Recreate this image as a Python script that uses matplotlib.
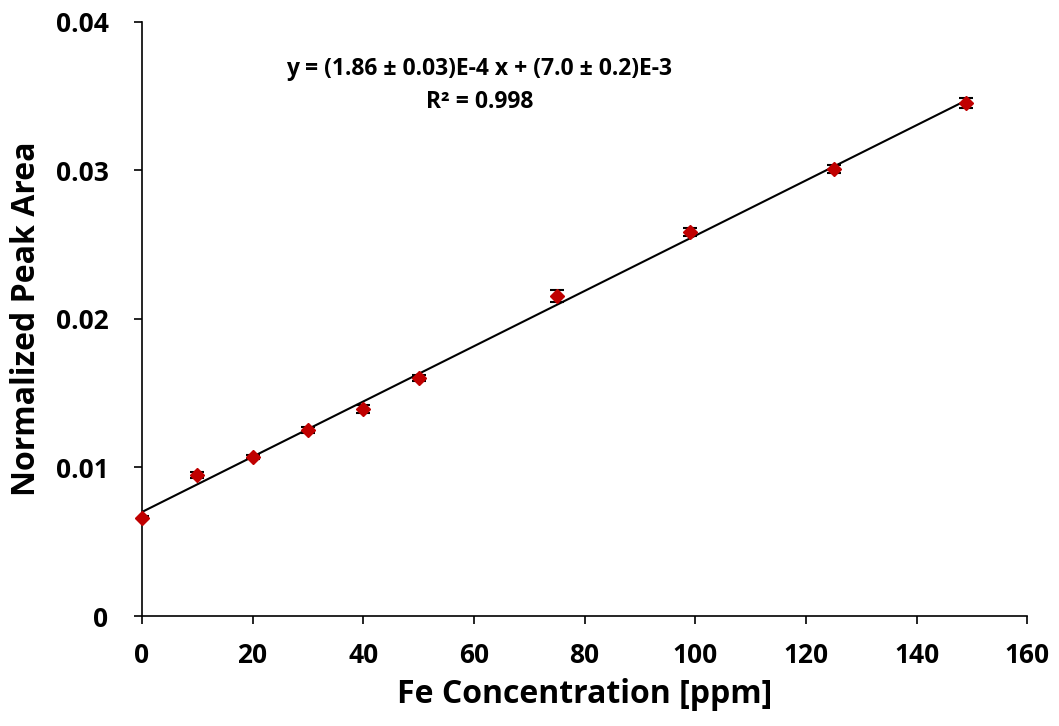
import numpy as np
import matplotlib.pyplot as plt

plt.rcParams['font.family'] = ['Open Sans', 'DejaVu Sans']
plt.rcParams['font.weight'] = 'bold'

conc = [0, 10, 20, 30, 40, 50, 75, 99, 125, 149]
area = [0.0066, 0.0095, 0.0107, 0.01253, 0.01394, 0.01603, 0.02155, 0.02585, 0.03008, 0.03452]
err = [0.0001, 0.0002, 0.00015, 0.0002, 0.00027, 0.0002, 0.0004, 0.00027, 0.00027, 0.00035]

slope = 1.86e-4
intercept = 7.0e-3

fig = plt.figure(figsize=(10.59, 7.26), dpi=100)
fig.patch.set_facecolor('white')
ax1 = fig.add_axes([0.134, 0.1515, 0.836, 0.8185])

xfit = np.array([0, 149])
ax1.plot(xfit, slope * xfit + intercept, color='black', linewidth=1.5, zorder=2)
ax1.errorbar(conc, area, yerr=err, fmt='none', ecolor='black', elinewidth=1.2,
             capsize=5, capthick=1.5, zorder=3)
ax1.plot(conc, area, linestyle='none', marker='D', markersize=7,
         color='#c00000', markeredgecolor='#c00000', zorder=4, clip_on=False)

ax1.set_xlim(0, 160)
ax1.set_ylim(0, 0.04)
ax1.set_xticks(np.arange(0, 161, 20))
ax1.set_yticks([0, 0.01, 0.02, 0.03, 0.04])
ax1.set_yticklabels(['0', '0.01', '0.02', '0.03', '0.04'])
ax1.spines['top'].set_visible(False)
ax1.spines['right'].set_visible(False)
ax1.spines['left'].set_linewidth(1.2)
ax1.spines['bottom'].set_linewidth(1.2)
ax1.tick_params(direction='out', length=6, width=1.2, labelsize=19)
ax1.tick_params(axis='y', pad=18)
ax1.tick_params(axis='x', pad=13)

ax1.set_xlabel('Fe Concentration [ppm]', fontsize=23, fontweight='bold', labelpad=6)
ax1.set_ylabel('Normalized Peak Area', fontsize=23, fontweight='bold', labelpad=9)

ax1.text(61, 0.0368, 'y = (1.86 ± 0.03)E-4 x + (7.0 ± 0.2)E-3', ha='center', va='center',
         fontsize=16.5, fontweight='bold')
ax1.text(61, 0.0346, 'R² = 0.998', ha='center', va='center', fontsize=16.5, fontweight='bold')

plt.savefig('out.png', dpi=100, facecolor='white')
